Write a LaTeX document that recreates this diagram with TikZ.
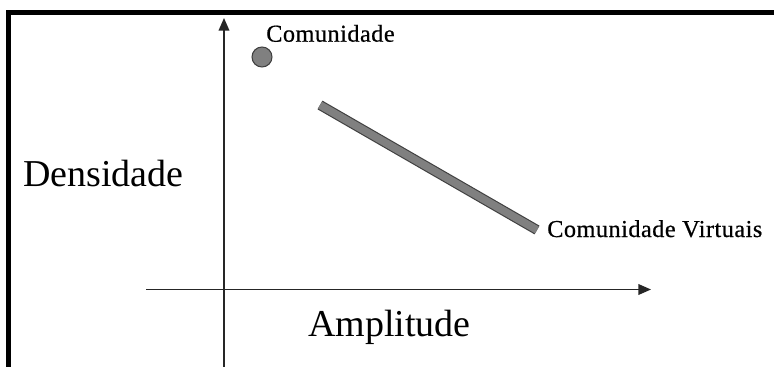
\documentclass[tikz,border=0pt]{standalone}
\usepackage{fontspec}
\setmainfont{Liberation Serif}
\newfontfamily\smallserif[LetterSpace=2,FakeBold=0.6]{Liberation Serif}
\usetikzlibrary{arrows.meta}
\begin{document}
\begin{tikzpicture}[x=0.75pt,y=-0.75pt,
  axis/.style={draw=black!85, line width=1.2pt, -{Triangle[length=9.5pt,width=8pt]}},
  bigtxt/.style={inner sep=0pt, anchor=base west, font=\fontsize{28.5}{30}\selectfont},
  smalltxt/.style={inner sep=0pt, anchor=base west, font=\smallserif\fontsize{18.2}{20}\selectfont},
  frame/.style={line width=3.75pt, draw=black}]
\useasboundingbox (0,0) rectangle (774,367);
\fill[white] (0,0) rectangle (774,367);
% frame
\draw[frame] (8.5,367) -- (8.5,12.5) -- (774,12.5);
% axes
\coordinate (ystart) at (224,367);
\coordinate (yend) at (224,18);
\coordinate (xstart) at (146,289.5);
\coordinate (xend) at (651,289.5);
\draw[axis] (ystart) -- (yend);
\draw[axis] (xstart) -- (xend);
% labels
\node[bigtxt] (dens) at (23,186.7) {Densidade};
\node[bigtxt] (ampl) at (308,336.7) {Amplitude};
% community dot
\node[circle, minimum size=15pt, inner sep=0pt, fill=black!50, draw=black!75, line width=0.8pt] (com) at (262,57) {};
\node[smalltxt] (comlbl) at (266,41.7) {Comunidade};
% virtual community bar
\coordinate (b1) at (320,105);
\coordinate (b2) at (537,230);
\draw[line width=7.5pt, black!75] (b1) -- (b2);
\draw[line width=5.8pt, black!50] (b1) -- (b2);
\node[smalltxt] (virt) at (547,237) {Comunidade Virtuais};
\end{tikzpicture}
\end{document}
